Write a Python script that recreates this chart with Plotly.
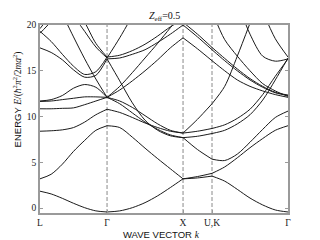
import plotly.graph_objects as go

# High-symmetry points along the path (x positions) and their labels
SYM_K = [0.0, 0.882, 1.882, 2.263, 3.263]
SYM_LABELS = ["L", "Γ", "X", "U,K", "Γ"]
Y_TICKS = [0, 5, 10, 15, 20]

# sample positions in each path segment
K_LG = [0.0, 0.147, 0.294, 0.441, 0.588, 0.735, 0.882]
K_GX = [0.882, 1.049, 1.215, 1.382, 1.549, 1.715, 1.882]
K_XU = [1.882, 2.072, 2.263]
K_KG = [2.263, 2.43, 2.596, 2.763, 2.93, 3.096, 3.263]

# energies (None = outside the plotted window)
BANDS_LG = [
    [1.85, 1.55, 1.07, 0.53, 0.05, -0.3, -0.42],
    [3.2, 3.7, 4.8, 6.2, 7.4, 8.5, 9.0],
    [8.4, 8.45, 8.55, 8.8, 9.4, 10.2, 10.8],
    [10.85, 10.85, 10.9, 10.95, 11.3, 11.7, 12.1],
    [11.7, 11.85, 12.3, 13.1, 13.5, 13.2, 12.1],
    [11.65, 11.7, 11.85, 12.0, 12.15, 12.15, 12.1],
    [17.5, 17.0, 16.2, 15.1, 14.3, 14.5, 16.3],
    [19.3, 18.2, 16.8, 15.5, 14.6, 14.9, 16.5],
    [None, None, 21.2, 18.7, 16.3, 14.1, 12.1],
    [None, None, None, 21.0, 19.3, 17.6, 16.4],
    [None, None, None, 22.2, 20.3, 18.0, 16.5],
    [19.6, 21.2, None, None, None, None, None],
    [19.1, 20.4, 22.0, None, None, None, None],
]

BANDS_GX = [
    [-0.42, -0.3, 0.05, 0.6, 1.35, 2.25, 3.2],
    [9.0, 8.8, 7.75, 6.55, 5.4, 4.3, 3.2],
    [10.8, 10.45, 9.9, 9.3, 8.8, 8.4, 8.2],
    [16.3, 13.9, 11.5, 9.6, 8.5, 7.9, 7.7],
    [12.1, 11.4, 10.4, 9.4, 8.6, 8.0, 7.7],
    [12.1, 11.7, 11.0, 10.1, 9.2, 8.5, 8.2],
    [12.1, 12.9, 13.9, 15.0, 16.2, 17.5, 18.6],
    [12.1, 13.3, 14.8, 16.4, 18.0, 19.7, 21.3],
    [16.3, 16.4, 16.8, 17.3, 18.1, 19.0, 20.0],
    [16.5, 16.7, 17.2, 17.9, 18.8, 19.8, 20.6],
    [16.4, 18.6, 21.0, None, None, None, None],
]

BANDS_XU = [
    [3.2, 3.3, 3.5],
    [3.2, 3.45, 3.8],
    [7.7, 6.4, 5.35],
    [8.2, 8.4, 8.7],
    [7.7, 7.85, 8.15],
    [8.2, 9.7, 11.4],
    [20.0, 18.7, 17.3],
    [20.3, 19.0, 17.55],
    [18.6, 17.4, 16.1],
]

BANDS_KG = [
    [3.5, 2.95, 2.05, 1.1, 0.35, -0.2, -0.42],
    [3.8, 4.5, 5.5, 6.6, 7.6, 8.5, 9.0],
    [5.35, 5.2, 5.9, 7.2, 8.6, 9.9, 10.6],
    [8.7, 9.1, 9.8, 10.8, 12.4, 14.4, 16.3],
    [8.15, 8.5, 9.2, 10.2, 11.8, 14.0, 16.4],
    [11.4, 13.3, 16.6, 20.2, None, None, None],
    [17.3, 16.1, 15.0, 14.0, 13.2, 12.6, 12.3],
    [17.55, 16.35, 15.2, 14.15, 13.3, 12.65, 12.35],
    [16.1, 15.0, 14.0, 13.3, 12.8, 12.4, 12.1],
    [21.5, 18.4, 16.6, 15.0, 13.6, 12.8, 12.2],
    [None, None, 22.5, 19.0, 16.6, 16.05, 16.3],
    [None, None, None, None, 21.5, 18.5, 16.5],
]

SERIF = "Liberation Serif"
SANS = "Liberation Sans"
FRAME = "#9a9a9a"

fig = go.Figure()
for ks, bands in [(K_LG, BANDS_LG), (K_GX, BANDS_GX), (K_XU, BANDS_XU), (K_KG, BANDS_KG)]:
    for e in bands:
        fig.add_trace(go.Scatter(
            x=ks, y=e, mode="lines",
            line=dict(color="#1a1a1a", width=1, shape="spline", smoothing=0.8),
            hoverinfo="skip", showlegend=False))

for k in SYM_K[1:4]:
    fig.add_shape(type="line", xref="x", yref="paper", x0=k, x1=k, y0=0, y1=1,
                  line=dict(color="#8a8a8a", width=1, dash="4px,2px"), layer="below")

# the page body adds an 8px offset, so the figure is laid out 8px smaller
fig.update_layout(
    width=312, height=232,
    margin=dict(l=32, r=32, t=16, b=24),
    paper_bgcolor="white", plot_bgcolor="white",
    showlegend=False,
    xaxis=dict(range=[SYM_K[0], SYM_K[-1]], tickvals=SYM_K, ticktext=SYM_LABELS,
               ticks="inside", ticklen=3, tickcolor=FRAME,
               showline=True, mirror=True, linecolor=FRAME, linewidth=1.5,
               showgrid=False, zeroline=False,
               tickfont=dict(family=SERIF, size=9.5, color="#222")),
    yaxis=dict(range=[-0.53, 20], tickvals=Y_TICKS,
               ticks="inside", ticklen=3, tickcolor=FRAME,
               showline=True, mirror="ticks", linecolor=FRAME, linewidth=1.5,
               showgrid=False, zeroline=False,
               tickfont=dict(family=SERIF, size=9.5, color="#222")),
    annotations=[
        dict(text="<i>Z</i><sub>eff</sub>=0.5", xref="paper", yref="paper",
             x=0.5, y=1.047, showarrow=False, xanchor="center", yanchor="middle",
             font=dict(family=SERIF, size=10, color="#111")),
        dict(text='ENERGY <span style="font-family:Liberation Serif"><i>E</i>/(<i>ħ</i><sup>2</sup><i>π</i><sup>2</sup>/2<i>ma</i><sup>2</sup>)</span>',
             xref="paper", yref="paper", x=-0.089, y=0.604, textangle=-90,
             showarrow=False, xanchor="center", yanchor="middle",
             font=dict(family=SANS, size=9.5, color="#111")),
        dict(text='WAVE VECTOR <span style="font-family:Liberation Serif"><i>k⃗</i></span>',
             xref="paper", yref="paper", x=0.5, y=-0.112,
             showarrow=False, xanchor="center", yanchor="middle",
             font=dict(family=SANS, size=9.5, color="#111")),
    ],
)

fig.write_html("out.html")
